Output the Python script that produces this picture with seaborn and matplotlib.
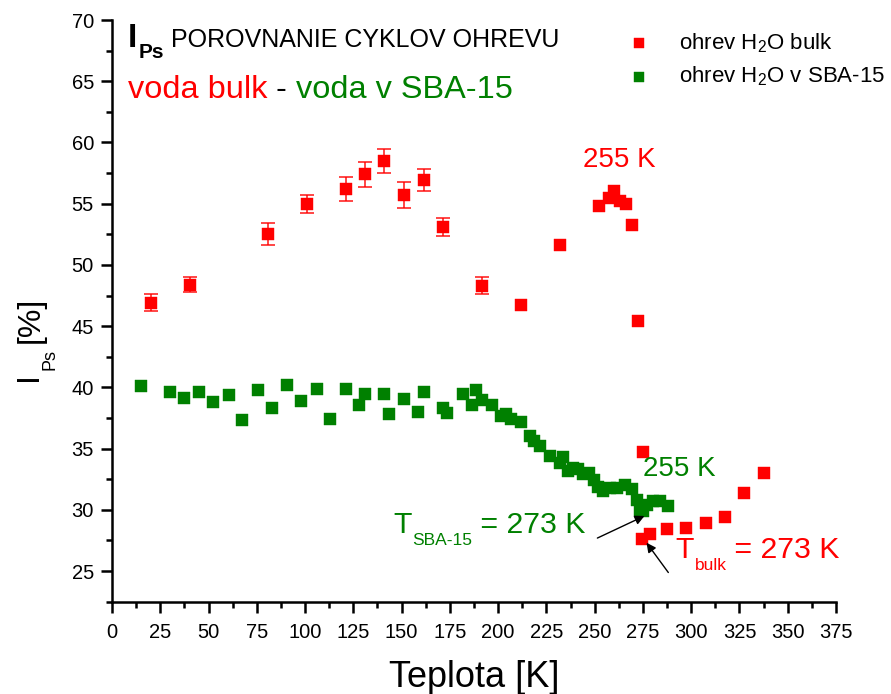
import matplotlib
matplotlib.use("Agg")
import matplotlib.pyplot as plt
import seaborn as sns
import pandas as pd
from matplotlib.ticker import MultipleLocator

# heating cycle of bulk water
bulk_T = [20.2, 40.4, 80.6, 100.8, 121.0, 131.0, 141.0, 151.0, 161.4, 171.4, 191.6,
          211.8, 231.9, 252.0, 257.3, 260.0, 263.3, 266.0, 269.3, 272.4, 274.3, 275.2,
          278.7, 287.3, 297.5, 307.7, 317.7, 327.5, 337.7]
bulk_I = [46.9, 48.4, 52.5, 55.0, 56.2, 57.4, 58.5, 55.7, 56.9, 53.1, 48.3,
          46.7, 51.6, 54.8, 55.5, 56.0, 55.2, 55.0, 53.3, 45.4, 27.6, 34.7,
          28.0, 28.4, 28.5, 28.9, 29.4, 31.4, 33.0]
bulk_err = [0.7, 0.65, 0.9, 0.72, 1.0, 1.0, 1.0, 1.05, 0.9, 0.7, 0.68,
            0, 0, 0, 0, 0, 0, 0, 0, 0, 0, 0,
            0, 0, 0, 0, 0, 0, 0]

# heating cycle of water confined in SBA-15
sba_T = [15.2, 30.2, 37.4, 45.2, 52.5, 60.4, 67.5, 75.6, 82.7, 90.8, 97.9, 106.0,
         112.9, 121.0, 127.9, 131.0, 141.0, 143.3, 151.2, 158.5, 161.4, 171.4, 173.5,
         181.6, 186.5, 188.5, 191.6, 196.7, 201.5, 204.0, 206.7, 211.8, 216.5, 218.7,
         221.7, 226.9, 232.0, 233.7, 236.3, 238.9, 241.5, 244.1, 247.2, 249.6, 251.9,
         254.5, 258.0, 261.4, 265.7, 269.2, 271.8, 273.5, 275.2, 276.9, 280.4, 283.8,
         288.1]
sba_I = [40.1, 39.6, 39.1, 39.6, 38.8, 39.4, 37.3, 39.75, 38.3, 40.2, 38.85, 39.85,
         37.45, 39.85, 38.55, 39.5, 39.5, 37.8, 39.05, 37.95, 39.65, 38.3, 37.9,
         39.5, 38.6, 39.8, 39.0, 38.6, 37.7, 37.85, 37.45, 37.2, 36.0, 35.6,
         35.2, 34.4, 33.8, 34.3, 33.2, 33.4, 33.3, 32.9, 33.0, 32.4, 31.9,
         31.5, 31.8, 31.8, 32.0, 31.7, 30.8, 30.0, 29.9, 30.4, 30.7, 30.7,
         30.3]

x_ticks = list(range(0, 376, 25))
y_ticks = list(range(25, 71, 5))

RED = "#FF0000"
GREEN = "#008000"

sns.set_theme(style="ticks")
plt.rcParams["font.family"] = ["Liberation Sans", "DejaVu Sans"]
plt.rcParams["mathtext.fontset"] = "custom"
plt.rcParams["mathtext.rm"] = "Liberation Sans"
plt.rcParams["mathtext.it"] = "Liberation Sans:italic"
plt.rcParams["mathtext.bf"] = "Liberation Sans:bold"
for key in ("text.color", "axes.labelcolor", "xtick.color", "ytick.color", "axes.edgecolor"):
    plt.rcParams[key] = "black"

W, H = 891, 694
fig = plt.figure(figsize=(W / 100, H / 100), dpi=100)
ax = fig.add_axes([112 / W, 1 - 601.7 / H, (836 - 112) / W, (601.7 - 20) / H])

bulk = pd.DataFrame({"T": bulk_T, "I": bulk_I, "err": bulk_err})
sba = pd.DataFrame({"T": sba_T, "I": sba_I})

eb = bulk[bulk["err"] > 0]
ax.errorbar(eb["T"], eb["I"], yerr=eb["err"], fmt="none", ecolor=RED,
            elinewidth=1.2, capsize=5, capthick=1.2, alpha=0.85, zorder=2)

sns.scatterplot(data=bulk, x="T", y="I", ax=ax, marker="s", s=72, color=RED,
                edgecolor=RED, linewidth=0.3, label=r"ohrev H$_{2}$O bulk", zorder=3)
sns.scatterplot(data=sba, x="T", y="I", ax=ax, marker="s", s=72, color=GREEN,
                edgecolor=GREEN, linewidth=0.3, label=r"ohrev H$_{2}$O v SBA-15", zorder=3)

ax.set_xlim(0, 375)
ax.set_ylim(22.5, 70)
ax.set_xticks(x_ticks)
ax.set_yticks(y_ticks)
ax.xaxis.set_minor_locator(MultipleLocator(12.5))
ax.yaxis.set_minor_locator(MultipleLocator(2.5))
ax.tick_params(axis="both", which="major", direction="out", length=8, width=1.8,
               labelsize=14.5)
ax.tick_params(axis="x", which="major", pad=7)
ax.tick_params(axis="y", which="major", pad=5)
ax.tick_params(axis="both", which="minor", direction="out", length=4, width=1.8)
for side in ("top", "right"):
    ax.spines[side].set_visible(False)
for side in ("left", "bottom"):
    ax.spines[side].set_linewidth(1.8)

ax.set_xlabel("Teplota [K]", fontsize=26, labelpad=13)
ax.set_ylabel("")


def fpos(px, py):
    return px / W, 1 - py / H


# y-axis title, assembled from pieces so the subscript sits low
yl = dict(rotation=90, rotation_mode="anchor", ha="left", va="baseline")
fig.text(*fpos(37, 381), "I", fontsize=23, **yl)
fig.text(*fpos(54, 370), "Ps", fontsize=13, **yl)
fig.text(*fpos(39, 343), "[%]", fontsize=23, **yl)

ax.legend(loc="upper right", bbox_to_anchor=(905 / W, 1 - 11 / H),
          bbox_transform=fig.transFigure, frameon=False, fontsize=16,
          handletextpad=0.8, labelspacing=0.45, markerscale=0.8)


def sub_label(x, y, main, sub, rest, color, size, sub_size, drop, coords,
              weight="normal", rest_size=None):
    """Main text, a lowered subscript, then the rest on the main baseline."""
    a = ax.text(x, y, main, fontsize=size, color=color, ha="left",
                va="baseline", fontweight=weight, transform=coords)
    b = ax.annotate(sub, xy=(1, y), xycoords=(a, coords), xytext=(1, -drop),
                    textcoords="offset pixels", fontsize=sub_size, color=color,
                    ha="left", va="baseline", fontweight=weight)
    ax.annotate(rest, xy=(1, y), xycoords=(b, coords),
                fontsize=rest_size or size, color=color, ha="left", va="baseline")


# heading lines
sub_label(0.022, 0.9536, "I", "Ps", " POROVNANIE CYKLOV OHREVU", "black",
          24, 15, 11, ax.transAxes, weight="bold", rest_size=18)
v1 = ax.text(0.022, 0.866, "voda bulk", transform=ax.transAxes,
             fontsize=23.4, va="baseline", ha="left", color=RED)
v2 = ax.annotate(" - ", xy=(1, 0.866), xycoords=(v1, ax.transAxes), fontsize=23.4,
                 va="baseline", ha="left")
ax.annotate("voda v SBA-15", xy=(1, 0.866), xycoords=(v2, ax.transAxes), fontsize=23.4,
            va="baseline", ha="left", color=GREEN)

# transition annotations
ax.text(263, 58.6, "255 K", fontsize=20, color=RED, ha="center", va="center")
ax.text(294, 33.3, "255 K", fontsize=20, color=GREEN, ha="center", va="center")
sub_label(145.5, 28.1, "T", "SBA-15", " = 273 K", GREEN, 21.8, 12.5, 12, ax.transData)
sub_label(291.6, 26.05, "T", "bulk", " = 273 K", RED, 21.8, 12.5, 12, ax.transData)

ax.annotate("", xy=(277.1, 29.6), xytext=(250.1, 27.6),
            arrowprops=dict(arrowstyle="-|>", color="black", lw=1.0, mutation_scale=14))
ax.annotate("", xy=(276, 27.5), xytext=(289, 24.7),
            arrowprops=dict(arrowstyle="-|>", color="black", lw=1.0, mutation_scale=14))

fig.savefig("out.png", dpi=100)
